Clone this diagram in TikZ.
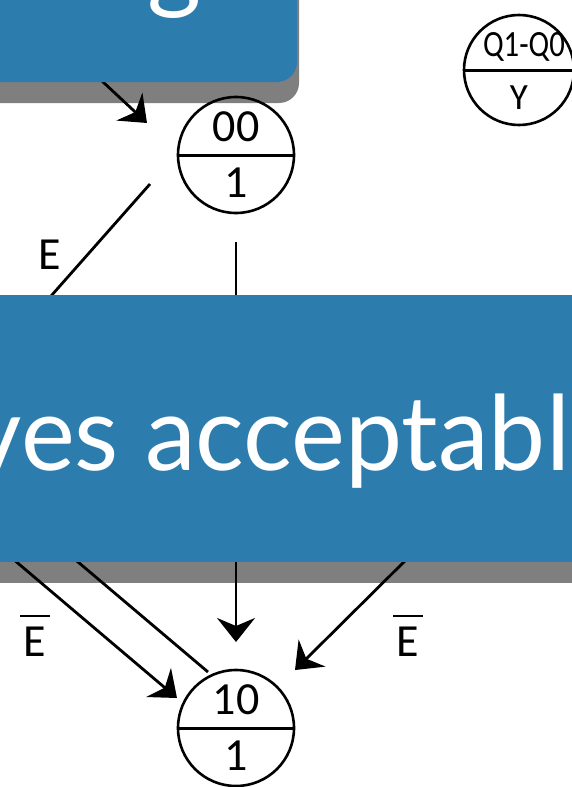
\documentclass[tikz,border=0pt]{standalone}
\usepackage{fontspec}
\setmainfont{Carlito}
\newfontfamily\bannerfont{Lato}
\usetikzlibrary{arrows.meta}
\definecolor{bannerblue}{RGB}{45,124,174}
\newcommand{\ebarlabel}{\vbox{\hrule height 2.4pt width 30pt\kern 10pt\hbox to 30pt{\hss E\hss}}}
\begin{document}
\begin{tikzpicture}[x=1pt,y=1pt,
  state/.style={circle,draw=black,line width=2.6pt,minimum size=116pt,inner sep=0pt},
  legendstate/.style={circle,draw=black,line width=2.6pt,minimum size=110pt,inner sep=0pt},
  divider/.style={line width=3pt},
  edge/.style={line width=2.8pt},
  arr/.style={edge,-{Stealth[length=24pt,width=38pt,inset=8pt]}},
  statetext/.style={font=\fontsize{46}{46}\selectfont,inner sep=0pt},
  legendtext/.style={font=\fontsize{37}{37}\selectfont,inner sep=0pt},
  lbl/.style={font=\fontsize{46}{46}\selectfont,inner sep=0pt},
  banner/.style={fill=bannerblue},
  shadow/.style={fill=black,opacity=0.5},
  bannertext/.style={text=white,font=\bannerfont\fontsize{104}{104}\selectfont,inner sep=0pt}]
\useasboundingbox (0,0) rectangle (571,-787);
% states
\node[state] (s00) at (236,-155) {};
\draw[divider] (s00.west) -- (s00.east);
\node[statetext] (s00q) at (236,-127) {00};
\node[statetext] (s00y) at (236,-183) {1};
\node[state] (s10) at (236,-728) {};
\draw[divider] (s10.west) -- (s10.east);
\node[statetext] (s10q) at (236,-700) {10};
\node[statetext] (s10y) at (236,-756) {1};
% legend
\node[legendstate] (leg) at (519,-70) {};
\draw[divider] (leg.west) -- (leg.east);
\node[legendtext,xscale=0.83] (legq) at (524,-47) {Q1-Q0};
\node[legendtext] (legy) at (519,-98) {Y};
% connectors
\coordinate (initfrom) at (58,-40);
\coordinate (initto) at (147,-123);
\draw[arr] (initfrom) -- (initto);
\coordinate (eA) at (150,-184);
\coordinate (eB) at (21,-330);
\draw[edge] (eA) -- (eB);
\coordinate (vA) at (236,-242);
\coordinate (vB) at (236,-330);
\draw[edge] (vA) -- (vB);
\coordinate (vC) at (236,-540);
\coordinate (vD) at (236,-642);
\draw[arr] (vC) -- (vD);
\coordinate (lA) at (0,-548);
\coordinate (lB) at (177,-698);
\draw[arr] (lA) -- (lB);
\coordinate (mA) at (208,-672);
\coordinate (mB) at (52,-540);
\draw[edge] (mA) -- (mB);
\coordinate (rA) at (426,-540);
\coordinate (rB) at (295,-670);
\draw[arr] (rA) -- (rB);
% labels
\node[lbl] (labE) at (50,-255) {E};
\node[lbl] (labEb1) at (35,-636) {\ebarlabel};
\node[lbl] (labEb2) at (408,-636) {\ebarlabel};
% top banner
\fill[shadow,rounded corners=20pt] (-40,40) rectangle (299,-103);
\fill[banner,rounded corners=20pt] (-40,40) rectangle (297,-82);
\node[bannertext,anchor=base] (title) at (175,1) {g};
% middle banner
\fill[shadow] (-10,-316) rectangle (581,-583);
\fill[banner] (-10,-295) rectangle (581,-562);
\node[bannertext,anchor=base east,xscale=0.98] (msg) at (570,-470) {ves acceptabl};
\end{tikzpicture}
\end{document}
